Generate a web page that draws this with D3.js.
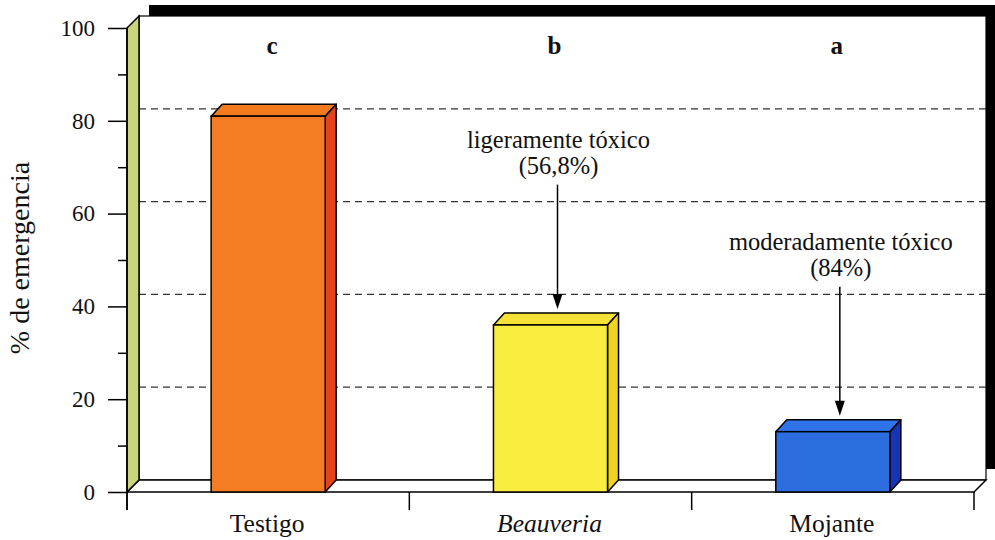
<!DOCTYPE html>
<html>
<head>
<meta charset="utf-8">
<script src="https://cdn.jsdelivr.net/npm/d3@7"></script>
<style>
  html, body { margin: 0; padding: 0; background: #fff; }
  svg { display: block; }
  text { font-family: "Liberation Serif", "Times New Roman", serif; fill: #111; }
</style>
</head>
<body>
<svg id="chart" width="995" height="540"></svg>
<script>
// Emergence (%) per treatment
const categories = ["Testigo", "Beauveria", "Mojante"];
const values = [81, 36, 13];
const groupLetters = ["c", "b", "a"];
const toxicityNotes = [null, ["ligeramente tóxico", "(56,8%)"], ["moderadamente tóxico", "(84%)"]];
const majorTicks = [0, 20, 40, 60, 80, 100];
const minorTicks = [10, 30, 50, 70, 90];
const gridValues = [20, 40, 60, 80];

const faceColors = ["#f57c22", "#f9ed40", "#2c6ee0"];
const topColors  = ["#f47a1e", "#f6e236", "#2f72ea"];
const sideColors = ["#e2421c", "#f0d31e", "#1634b8"];

const svg = d3.select("#chart");

// plot frame
const plotLeft = 127, plotRight = 974, plotBottom = 492, plotTop = 28;
const dx = 12, dy = -12;   // depth offset of the 3D box
const y = d3.scaleLinear().domain([0, 100]).range([plotBottom, plotTop]);
const x = d3.scaleBand().domain(categories).range([plotLeft, plotRight])
  .paddingInner(0.596).paddingOuter(0.298);

// shadow behind back wall
svg.append("rect")
  .attr("x", plotLeft + dx + 10).attr("y", plotTop + dy - 11)
  .attr("width", plotRight - plotLeft).attr("height", plotBottom - plotTop)
  .attr("fill", "#000");

// back wall
svg.append("rect")
  .attr("x", plotLeft + dx).attr("y", plotTop + dy)
  .attr("width", plotRight - plotLeft).attr("height", plotBottom - plotTop)
  .attr("fill", "#fff").attr("stroke", "#000").attr("stroke-width", 1.2);

// dashed gridlines on back wall
svg.append("g").selectAll("line").data(gridValues).join("line")
  .attr("x1", plotLeft + dx).attr("x2", plotRight + dx)
  .attr("y1", d => y(d) + dy).attr("y2", d => y(d) + dy)
  .attr("stroke", "#333").attr("stroke-width", 1.3)
  .attr("stroke-dasharray", "7,5");

// floor
svg.append("path")
  .attr("d", `M${plotLeft},${plotBottom}L${plotLeft + dx},${plotBottom + dy}L${plotRight + dx},${plotBottom + dy}L${plotRight},${plotBottom}Z`)
  .attr("fill", "#fff").attr("stroke", "#000").attr("stroke-width", 1.5);

// left wall
svg.append("path")
  .attr("d", `M${plotLeft},${plotTop}L${plotLeft + dx},${plotTop + dy}L${plotLeft + dx},${plotBottom + dy}L${plotLeft},${plotBottom}Z`)
  .attr("fill", "#c9d47c").attr("stroke", "#000").attr("stroke-width", 1.5);

// bars
const bars = svg.append("g").selectAll("g").data(values).join("g");
const bw = x.bandwidth();
const bx = (d, i) => x(categories[i]);
bars.append("path") // top
  .attr("d", (d, i) => {
    const x0 = bx(d, i), yv = y(d);
    return `M${x0},${yv}L${x0 + dx - 1},${yv + dy}L${x0 + bw + dx - 1},${yv + dy}L${x0 + bw},${yv}Z`;
  })
  .attr("fill", (d, i) => topColors[i]).attr("stroke", "#000").attr("stroke-width", 1.5)
  .attr("stroke-linejoin", "round");
bars.append("path") // side
  .attr("d", (d, i) => {
    const x1 = bx(d, i) + bw, yv = y(d);
    return `M${x1},${yv}L${x1 + dx - 1},${yv + dy}L${x1 + dx - 1},${plotBottom + dy}L${x1},${plotBottom}Z`;
  })
  .attr("fill", (d, i) => sideColors[i]).attr("stroke", "#000").attr("stroke-width", 1.5)
  .attr("stroke-linejoin", "round");
bars.append("rect") // front
  .attr("x", (d, i) => bx(d, i)).attr("y", d => y(d))
  .attr("width", bw).attr("height", d => plotBottom - y(d))
  .attr("fill", (d, i) => faceColors[i]).attr("stroke", "#000").attr("stroke-width", 1.5);

// y axis
const yAxis = svg.append("g").attr("transform", `translate(${plotLeft},0)`)
  .call(d3.axisLeft(y).tickValues(majorTicks).tickSize(19).tickPadding(13).tickFormat(d3.format("d")));
yAxis.select(".domain").remove();
yAxis.selectAll(".tick line").attr("stroke", "#000").attr("stroke-width", 1.5);
yAxis.selectAll(".tick text").style("font-family", "Liberation Serif").style("font-size", "23px").attr("fill", "#111");
const yMinor = svg.append("g").attr("transform", `translate(${plotLeft},0)`)
  .call(d3.axisLeft(y).tickValues(minorTicks).tickSize(9).tickFormat(""));
yMinor.select(".domain").remove();
yMinor.selectAll(".tick line").attr("stroke", "#000").attr("stroke-width", 1.5);

// vertical axis line, continuing below the floor
svg.append("line").attr("x1", plotLeft).attr("x2", plotLeft).attr("y1", plotTop).attr("y2", plotBottom + 18)
  .attr("stroke", "#000").attr("stroke-width", 1.5);

// x axis separators between categories
const seps = d3.range(categories.length + 1).map(i => plotLeft + i * x.step());
svg.append("g").selectAll("line").data(seps).join("line")
  .attr("x1", d => d).attr("x2", d => d).attr("y1", plotBottom).attr("y2", plotBottom + 18)
  .attr("stroke", "#000").attr("stroke-width", 1.5);

// category labels
svg.append("g").selectAll("text").data(categories).join("text")
  .attr("x", d => x(d) + bw / 2 - 1).attr("y", 532)
  .attr("text-anchor", "middle").style("font-size", "25.5px")
  .style("font-style", d => d === "Beauveria" ? "italic" : "normal")
  .text(d => d);

// significance letters
svg.append("g").selectAll("text").data(groupLetters).join("text")
  .attr("x", (d, i) => x(categories[i]) + bw / 2 + 4).attr("y", 54)
  .attr("text-anchor", "middle").style("font-size", "25px").style("font-weight", "bold")
  .text(d => d);

// toxicity annotations with arrows (text placed at a height on the value scale)
const noteLevels = [null, 74, 52];
const notes = toxicityNotes.map((n, i) => ({ n, i })).filter(o => o.n);
const noteY = o => y(noteLevels[o.i]);
const noteX = o => x(categories[o.i]) + bw / 2 + 7;
const ng = svg.append("g").selectAll("g").data(notes).join("g");
ng.append("text")
  .attr("x", o => noteX(o) + 1).attr("y", o => noteY(o) - 1)
  .attr("text-anchor", "middle").style("font-size", "24.5px")
  .text(o => o.n[0]);
ng.append("text")
  .attr("x", o => noteX(o) + 1).attr("y", o => noteY(o) + 25)
  .attr("text-anchor", "middle").style("font-size", "24.5px")
  .text(o => o.n[1]);
ng.append("line")
  .attr("x1", noteX).attr("x2", noteX)
  .attr("y1", o => noteY(o) + 36)
  .attr("y2", o => y(values[o.i]) + dy - 12)
  .attr("stroke", "#000").attr("stroke-width", 1.5);
ng.append("path")
  .attr("d", o => {
    const ax = noteX(o), ay = y(values[o.i]) + dy - 4;
    return `M${ax},${ay}L${ax - 5},${ay - 15}L${ax + 5},${ay - 15}Z`;
  })
  .attr("fill", "#000");

// y-axis title
svg.append("text")
  .attr("transform", "translate(29,258) rotate(-90)")
  .attr("text-anchor", "middle").style("font-size", "28px")
  .text("% de emergencia");
</script>
</body>
</html>
